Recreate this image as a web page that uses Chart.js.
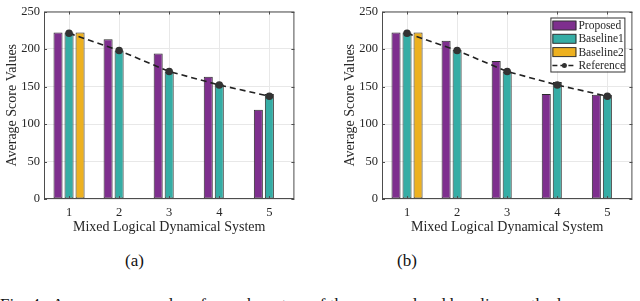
<!DOCTYPE html>
<html>
<head>
<meta charset="utf-8">
<script src="https://cdn.jsdelivr.net/npm/chart.js@4.4.0/dist/chart.umd.min.js"></script>
<style>
  body { margin: 0; width: 640px; height: 301px; overflow: hidden; background: #fff; position: relative; }
  canvas { position: absolute; top: 0; }
  .cap { position: absolute; font-family: "Liberation Serif", serif; font-size: 17px; color: #111; }
</style>
</head>
<body>
<canvas id="chartA" width="300" height="240" style="left:0px"></canvas>
<canvas id="chartB" width="300" height="240" style="left:338px"></canvas>
<div class="cap" style="left:125px; top:251px;">(a)</div>
<div class="cap" style="left:397px; top:251px;">(b)</div>
<div class="cap" style="left:0px; top:295px; white-space:nowrap;">Fig. 4:&nbsp; Average score values for each system of the proposed and baseline methods.</div>
<script>
const categories = ["1", "2", "3", "4", "5"];
const referenceScores = [221, 198, 170, 152, 137];
const baseline2 = [222, 0, 0, 0, 0];

// (a)
const proposedA = [222, 213, 194, 163, 119];
const baseline1A = [222, 198, 170, 153, 140];

// (b)
const proposedB = [222, 211, 184, 140, 139];
const baseline1B = [222, 199, 170, 156, 139];

const yMin = 0, yMax = 250, yStep = 50;

const PURPLE = "#7E2F8E";
const TEAL = "#35ADA5";
const YELLOW = "#EDB120";
const TEXT = "#262626";
const SERIF = "Liberation Serif";

// box around plot area + inward ticks (matlab style)
const boxPlugin = {
  id: "box",
  afterDraw(chart) {
    const { ctx, chartArea: a, scales } = chart;
    ctx.save();
    ctx.strokeStyle = "#4d4d4d";
    ctx.lineWidth = 1;
    ctx.strokeRect(a.left + 0.5, a.top + 0.5, a.right - a.left - 1, a.bottom - a.top - 1);
    ctx.beginPath();
    scales.y.ticks.forEach((t, i) => {
      const y = Math.round(scales.y.getPixelForTick(i)) + 0.5;
      ctx.moveTo(a.left, y); ctx.lineTo(a.left + 3, y);
      ctx.moveTo(a.right, y); ctx.lineTo(a.right - 3, y);
    });
    scales.x.ticks.forEach((t, i) => {
      const x = Math.round(scales.x.getPixelForValue(i)) + 0.5;
      ctx.moveTo(x, a.bottom); ctx.lineTo(x, a.bottom - 3);
      ctx.moveTo(x, a.top); ctx.lineTo(x, a.top + 3);
    });
    ctx.stroke();
    ctx.restore();
  }
};

// legend drawn inside top-right corner of plot
const insideLegend = {
  id: "insideLegend",
  afterDraw(chart, args, opts) {
    if (!opts.show) return;
    const { ctx, chartArea: a } = chart;
    const w = 74, h = 54;
    const x0 = a.right - 8 - w, y0 = a.top + 6;
    ctx.save();
    ctx.fillStyle = "#fff";
    ctx.fillRect(x0, y0, w, h);
    ctx.strokeStyle = "#333";
    ctx.lineWidth = 1;
    ctx.strokeRect(x0 + 0.5, y0 + 0.5, w, h);
    ctx.font = "11.5px '" + SERIF + "'";
    ctx.textBaseline = "middle";
    const order = [1, 2, 3, 0];
    order.forEach((di, row) => {
      const ds = chart.data.datasets[di];
      const cy = y0 + 8 + row * 13.3;
      const sx = x0 + 2;
      if (ds.type === "line") {
        ctx.strokeStyle = ds.borderColor;
        ctx.lineWidth = 1.5;
        ctx.setLineDash([5, 3]);
        ctx.beginPath();
        ctx.moveTo(sx, cy); ctx.lineTo(sx + 24, cy);
        ctx.stroke();
        ctx.setLineDash([]);
        ctx.fillStyle = ds.pointBackgroundColor;
        ctx.beginPath();
        ctx.arc(sx + 12, cy, 2.5, 0, Math.PI * 2);
        ctx.fill();
      } else {
        ctx.fillStyle = ds.backgroundColor;
        ctx.fillRect(sx, cy - 4.5, 24, 9);
        ctx.strokeStyle = "#333";
        ctx.lineWidth = 1;
        ctx.strokeRect(sx + 0.5, cy - 4.5, 23, 9);
      }
      ctx.fillStyle = TEXT;
      ctx.fillText(ds.label, sx + 26, cy + 0.5);
    });
    ctx.restore();
  }
};

function makeChart(id, proposed, baseline1, showLegend, padRight) {
  const barCommon = {
    type: "bar",
    borderColor: "#2b2b2b",
    borderWidth: 1,
    borderSkipped: false,
    minBarLength: 1,
    categoryPercentage: 0.66,
    barPercentage: 0.82,
    order: 1
  };
  return new Chart(document.getElementById(id), {
    data: {
      labels: categories,
      datasets: [
        {
          type: "line",
          label: "Reference",
          data: referenceScores,
          borderColor: "#222",
          borderWidth: 1.6,
          borderDash: [6, 4],
          pointRadius: 3,
          pointBackgroundColor: "#333",
          pointBorderColor: "#333",
          fill: false,
          tension: 0,
          order: 0
        },
        Object.assign({ label: "Proposed", data: proposed, backgroundColor: PURPLE }, barCommon),
        Object.assign({ label: "Baseline1", data: baseline1, backgroundColor: TEAL }, barCommon),
        Object.assign({ label: "Baseline2", data: baseline2, backgroundColor: YELLOW }, barCommon)
      ]
    },
    options: {
      responsive: false,
      animation: false,
      devicePixelRatio: 1,
      layout: { padding: { top: 6, right: padRight, left: 0, bottom: 0 } },
      plugins: {
        legend: { display: false },
        tooltip: { enabled: false },
        insideLegend: { show: showLegend }
      },
      scales: {
        x: {
          grid: { offset: false, color: "#e8e8e8", drawTicks: false },
          border: { display: false },
          ticks: { padding: 6, color: TEXT, font: { family: SERIF, size: 12.5 } },
          title: { display: true, text: "Mixed Logical Dynamical System", color: TEXT,
                   font: { family: SERIF, size: 14 }, padding: { top: 0, bottom: 4 } },
          afterFit(s) { s.height = 41; }
        },
        y: {
          min: yMin, max: yMax,
          grid: { color: "#e8e8e8", drawTicks: false },
          border: { display: false },
          ticks: { stepSize: yStep, padding: 4, color: TEXT, font: { family: SERIF, size: 12.5 } },
          title: { display: true, text: "Average Score Values", color: TEXT,
                   font: { family: SERIF, size: 14 }, padding: { top: 4, bottom: 0 } },
          afterFit(s) { s.width = 44; }
        }
      }
    },
    plugins: [boxPlugin, insideLegend]
  });
}

makeChart("chartA", proposedA, baseline1A, false, 2);
makeChart("chartB", proposedB, baseline1B, true, 1);
</script>
</body>
</html>
